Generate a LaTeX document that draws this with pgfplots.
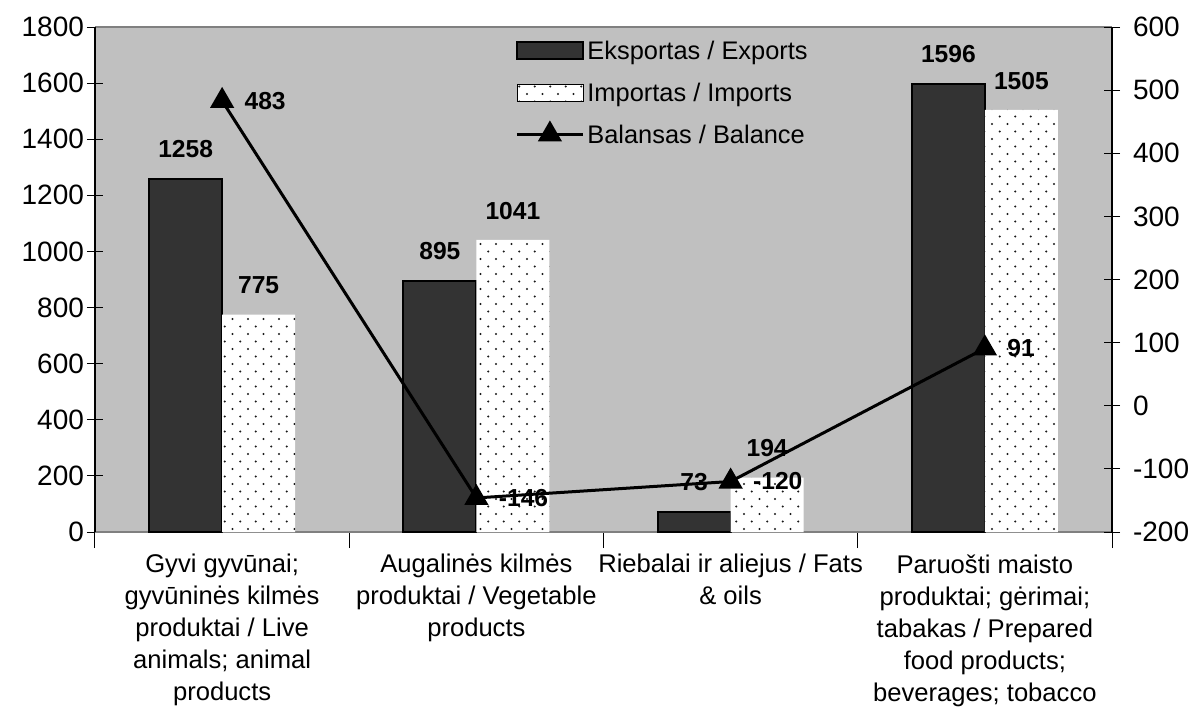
\documentclass[border=0pt]{standalone}
\usepackage{pgfplots}
\pgfplotsset{compat=1.18}
\usepackage{fontspec}
\setmainfont{Liberation Sans}
\usetikzlibrary{patterns}
\definecolor{bgc}{RGB}{192,192,192}
\definecolor{expcol}{RGB}{51,51,51}
\definecolor{frame}{RGB}{128,128,128}
\pgfdeclarepatternformonly{xldots}{\pgfqpoint{-1pt}{-1pt}}{\pgfqpoint{5pt}{5pt}}{\pgfqpoint{7.75pt}{7.5pt}}{%
  \pgfpathcircle{\pgfqpoint{0pt}{0pt}}{0.6pt}%
  \pgfpathcircle{\pgfqpoint{3.875pt}{3.75pt}}{0.6pt}%
  \pgfusepath{fill}}
\pgfplotsset{
  legbar/.style={legend image code/.code={\draw[##1] (0pt,-4.25pt) rectangle (33pt,4.25pt);}},
  leglinemark/.style={legend image code/.code={\draw[mark repeat=2, mark phase=2, ##1] plot coordinates {(0pt,0pt) (16.5pt,0pt) (33pt,0pt)};}},
  common/.style={
    scale only axis, width=508.5pt, height=252.5pt,
    xmin=-0.5, xmax=3.5,
    tick align=center, major tick length=8pt,
    /pgf/number format/assume math mode=true,
    /pgf/number format/1000 sep={},
    tick label style={font=\fontsize{14}{16}\selectfont, black},
    tick style={black, line width=0.5pt},
  }
}
\begin{document}
\begin{tikzpicture}
\begin{axis}[common, name=main,
  ymin=0, ymax=1800, ytick={0,200,...,1800}, ytick pos=left,
  yticklabel style={xshift=2pt},
  xtick={-0.5,0.5,1.5,2.5,3.5}, xticklabels={}, xtick pos=bottom,
  extra x ticks={0,1,2,3},
  extra x tick labels={
    {Gyvi gyvūnai;\\gyvūninės kilmės\\produktai / Live\\animals; animal\\products},
    {Augalinės kilmės\\produktai / Vegetable\\products},
    {Riebalai ir aliejus / Fats\\\& oils},
    {Paruošti maisto\\produktai; gėrimai;\\tabakas / Prepared\\food products;\\beverages; tobacco}},
  extra x tick style={major tick length=0pt, tick label style={align=center, font=\fontsize{12.8}{16}\selectfont, anchor=north, inner sep=0pt, yshift=-11pt}},
  axis background/.style={fill=bgc},
  separate axis lines,
  x axis line style={frame, line width=0.75pt},
  y axis line style={black, line width=0.75pt},
  ybar=0pt, bar width=36.5pt,
  nodes near coords,
  every node near coord/.append style={font=\bfseries\fontsize{12.3}{14}\selectfont, anchor=south, inner sep=0pt, yshift=10pt, black},
]
\addplot[draw=black, line width=1pt, fill=expcol] coordinates {(0,1258) (1,895) (2,73) (3,1596)};
\addplot[draw=none, fill=white, postaction={pattern=xldots, pattern color=black!90}] coordinates {(0,775) (1,1041) (2,194) (3,1505)};
\end{axis}
\begin{axis}[common,
  ymin=-200, ymax=600, ytick={-200,-100,...,600},
  axis x line=none, axis y line*=right,
  yticklabel style={xshift=3pt},
  y axis line style={black, line width=0.75pt},
  legend style={at={(rel axis cs:0.413,0.996)}, anchor=north west, draw=none, fill=none, inner sep=0pt,
    font=\fontsize{12.7}{15}\selectfont, row sep=0pt, column sep=1.5pt,
    nodes={inner sep=0pt, text height=15pt, text depth=6pt}},
  legend cell align=left,
]
\addlegendimage{legbar, draw=black, line width=1pt, fill=expcol}
\addlegendentry{Eksportas / Exports}
\addlegendimage{legbar, draw=none, fill=white, postaction={pattern=xldots, pattern color=black!90}}
\addlegendentry{Importas / Imports}
\addplot[black, line width=1.5pt, mark=triangle*, mark size=5.5pt, mark options={solid}, leglinemark,
  point meta=y, nodes near coords,
  every node near coord/.append style={font=\bfseries\fontsize{12.3}{14}\selectfont, anchor=west, inner sep=0pt, xshift=10.5pt, black}]
  coordinates {(0,483) (1,-146) (2,-120) (3,91)};
\addlegendentry{Balansas / Balance}
\end{axis}
\pgfresetboundingbox
\path[use as bounding box] (main.south west) ++(-47.5pt,-88.5pt) rectangle ++(596pt,354.5pt);
\end{tikzpicture}
\end{document}
